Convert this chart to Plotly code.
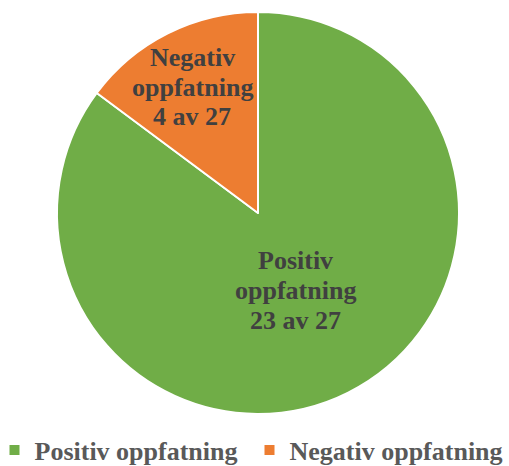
import plotly.graph_objects as go

labels = ["Positiv oppfatning", "Negativ oppfatning"]
values = [23, 4]
total = 27
colors = ["#70AD47", "#ED7D31"]

W, H = 509, 466
# label centres (px) for each slice: x centre, baselines of the three lines
label_x = [295, 192]
label_baselines = [[268, 298, 328], [66, 95, 124]]

fig = go.Figure(go.Pie(
    labels=labels, values=values,
    textinfo="none",
    sort=False, direction="clockwise", rotation=0,
    marker=dict(colors=colors, line=dict(color="white", width=2)),
    domain=dict(x=[57/W, 459/W], y=[(H-414)/H, (H-12)/H]),
    hoverinfo="label+value",
))

annotations = []
for lab, v, cx, bls in zip(labels, values, label_x, label_baselines):
    lines = lab.split(" ") + [f"{v} av {total}"]
    for line, bl in zip(lines, bls):
        annotations.append(dict(
            text=f"<b>{line}</b>", x=cx / W, y=1 - (bl - 8) / H,
            xref="paper", yref="paper", xanchor="center", yanchor="middle",
            showarrow=False,
            font=dict(family="Liberation Serif", size=26, color="#404040"),
        ))

fig.update_layout(
    width=W, height=H, margin=dict(l=0, r=0, t=0, b=0, autoexpand=False),
    paper_bgcolor="white", plot_bgcolor="white",
    annotations=annotations,
    legend=dict(orientation="h", x=249.5 / W, xanchor="center", y=(H-450)/H, yanchor="middle",
                font=dict(family="Liberation Serif", size=26, color="#595959", weight="bold"),
                itemwidth=30, entrywidth=210, entrywidthmode="pixels",
                bgcolor="rgba(0,0,0,0)"),
)
fig.write_html("out.html", config={"displayModeBar": False},
               post_script="document.body.style.margin='0px';")
